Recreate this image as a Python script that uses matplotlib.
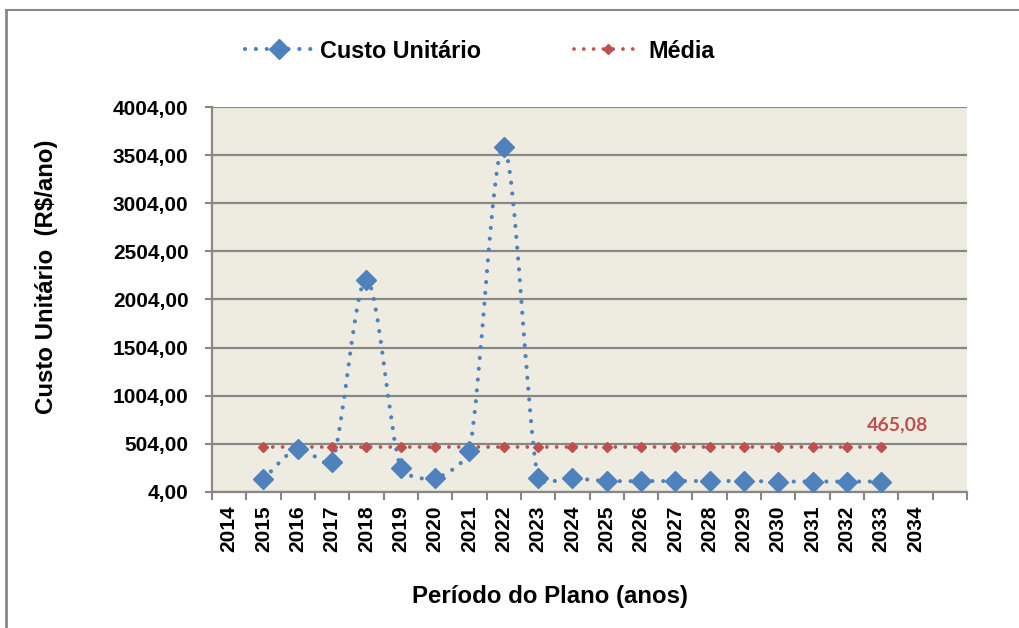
import numpy as np
import matplotlib
matplotlib.use("Agg")
import matplotlib.pyplot as plt
from matplotlib.path import Path
from matplotlib.patches import PathPatch
from matplotlib.lines import Line2D

#dados
anos = [str(a) for a in range(2014, 2035)] + [""]  # ultima categoria fica sem rotulo
anos_dados = list(range(2015, 2034))
custo_unitario = [133, 450, 310, 2210, 248, 143, 431, 3590, 143, 143,
                  115, 115, 115, 115, 115, 110, 110, 110, 110]
media = 465.08
y_ticks = [4 + 500 * i for i in range(9)]

AZUL = "#4F81BD"
VERMELHO = "#C0504D"
CINZA = "#878787"
FUNDO = "#EEEBE1"

plt.rcParams["font.family"] = ["Liberation Sans", "DejaVu Sans"]
plt.rcParams["font.weight"] = "bold"
plt.rcParams["axes.labelweight"] = "bold"

PONTILHADO = (0, (0.01, 2.6))
LARGURA = 3.0


def curva_suave(ax, x, y):
    #bezier cubica estilo excel: tangente (P2-P0)/6, limitada quando o segmento e curto
    #calculada em pixels e devolvida em coordenadas de dados
    tr = ax.transData
    pts = tr.transform(np.column_stack([x, y]).astype(float))
    ext = np.vstack([pts[0], pts, pts[-1]])
    verts = [pts[0]]
    codes = [Path.MOVETO]
    for i in range(1, len(ext) - 2):
        p0, p1, p2, p3 = ext[i - 1], ext[i], ext[i + 1], ext[i + 2]
        d12 = np.hypot(*(p2 - p1))
        d02 = np.hypot(*(p2 - p0))
        d13 = np.hypot(*(p3 - p1))
        f = min(1 / 6, d12 / (4 * d02)) if d02 > 0 else 1 / 6
        g = min(1 / 6, d12 / (4 * d13)) if d13 > 0 else 1 / 6
        c1 = p1 + (p2 - p0) * f
        c2 = p2 - (p3 - p1) * g
        verts += [c1, c2, p2]
        codes += [Path.CURVE4] * 3
    verts = tr.inverted().transform(np.array(verts))
    return Path(verts, codes)


fig = plt.figure(figsize=(10.2, 6.28), dpi=100)
ax = fig.add_axes([212 / 1020, 1 - 491.7 / 628, 755 / 1020, 384.4 / 628])
ax.set_facecolor(FUNDO)

#eixos
ax.set_xlim(-0.5, len(anos) - 0.5)
ax.set_ylim(y_ticks[0], y_ticks[-1])
ax.set_yticks(y_ticks)
ax.set_yticklabels([f"{v:.2f}".replace(".", ",") for v in y_ticks], fontsize=15)
ax.set_xticks(np.arange(len(anos) + 1) - 0.5)
ax.set_xticklabels([])
ax.set_xticks(np.arange(len(anos)), minor=True)
ax.set_xticklabels(anos, minor=True, rotation=90, fontsize=15)
ax.tick_params(axis="x", which="major", length=6, width=1.5, color=CINZA)
ax.tick_params(axis="x", which="minor", length=0, pad=10)
ax.tick_params(axis="y", length=5, width=1.5, color=CINZA, pad=12)
ax.grid(axis="y", color=CINZA, linewidth=1.6)
ax.set_axisbelow(True)
for lado in ["top", "right"]:
    ax.spines[lado].set_visible(False)
for lado in ["left", "bottom"]:
    ax.spines[lado].set_color(CINZA)
    ax.spines[lado].set_linewidth(1.6)

xs = np.array([anos.index(str(a)) for a in anos_dados])

#serie custo unitario: linha pontilhada suavizada + losangos
patch = PathPatch(curva_suave(ax, xs, custo_unitario), fill=False, edgecolor=AZUL,
                  linestyle=PONTILHADO, linewidth=LARGURA, capstyle="round",
                  zorder=3)
ax.add_patch(patch)
ax.plot(xs, custo_unitario, linestyle="none", marker="D", markersize=10,
        color=AZUL, zorder=4)

#linha da media
ax.plot(xs, [media] * len(xs), color=VERMELHO, marker="D", markersize=5,
        linestyle=PONTILHADO, linewidth=LARGURA * 0.9, dash_capstyle="round",
        zorder=3)
ax.annotate(f"{media:.2f}".replace(".", ","), (xs[-1], media),
            xytext=(11.5, 16), textcoords="offset points", ha="center",
            va="center", color=VERMELHO, fontsize=14, fontweight="bold",
            family=["Lato", "DejaVu Sans"])

ax.set_xlabel("Período do Plano (anos)", fontsize=17.3)
ax.xaxis.set_label_coords((550 - 212) / 755, (491.7 - 596) / 384.4)
ax.xaxis.label.set_va("center")
ax.set_ylabel("Custo Unitário  (R$/ano)", fontsize=17.3)
ax.yaxis.set_label_coords((47 - 212) / 755, (491.7 - 277) / 384.4)
ax.yaxis.label.set_va("center")

#legenda
h_custo = Line2D([], [], color=AZUL, marker="D", markersize=10,
                 linestyle=PONTILHADO, linewidth=LARGURA, dash_capstyle="round")
h_media = Line2D([], [], color=VERMELHO, marker="D", markersize=5,
                 linestyle=PONTILHADO, linewidth=LARGURA * 0.9,
                 dash_capstyle="round")
fig.legend([h_custo, h_media], ["Custo Unitário", "Média"], ncol=2,
           loc="center", bbox_to_anchor=(480 / 1020, 1 - 51 / 628),
           frameon=False, prop={"size": 16.8, "weight": "bold"},
           handlelength=2.9, handletextpad=0.3, columnspacing=4.0, numpoints=1)

#moldura do grafico
fig.add_artist(Line2D([6 / 1020, 1], [1 - 10 / 628] * 2, color=CINZA, lw=1.5))
fig.add_artist(Line2D([6 / 1020] * 2, [0, 1 - 10 / 628], color=CINZA, lw=2))

fig.savefig("out.png", dpi=100)
